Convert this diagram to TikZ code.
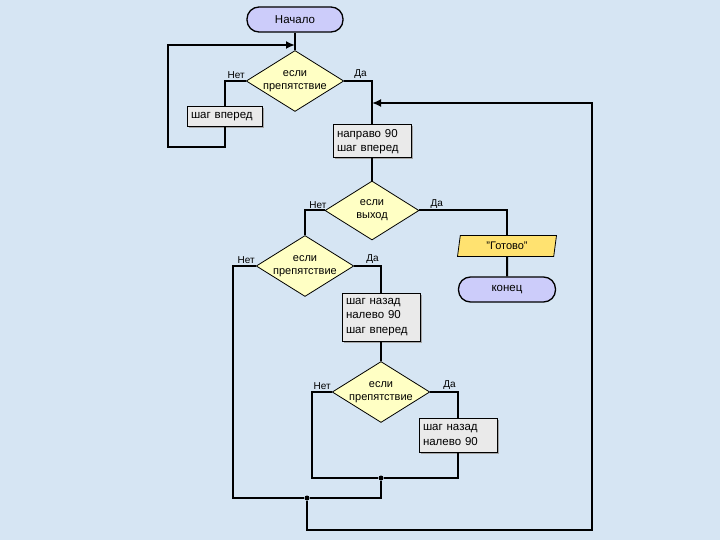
\documentclass[tikz,border=0pt]{standalone}
\usepackage{fontspec}
\setmainfont{Liberation Sans}
\usetikzlibrary{shapes.geometric,arrows.meta,shadows}
\definecolor{bgblue}{RGB}{214,229,243}
\definecolor{termblue}{RGB}{204,204,250}
\definecolor{condyellow}{RGB}{255,255,196}
\definecolor{ioyellow}{RGB}{255,226,112}
\definecolor{actgray}{RGB}{234,234,234}
\begin{document}
\begin{tikzpicture}[x=1pt,y=-1pt,
font=\fontsize{11}{13}\selectfont,
flow/.style={line width=2pt},
arr/.style={flow,-{Latex[length=9pt,width=8pt]}},
term/.style={draw,line width=1.3pt,fill=termblue,rounded corners=12pt,minimum width=96pt,minimum height=25pt,inner sep=0pt,font=\fontsize{11.5}{13}\selectfont},
cond/.style={diamond,draw,line width=0.8pt,fill=condyellow,aspect=1.6,minimum width=94pt,minimum height=59pt,inner sep=0pt,align=center},
act/.style={rectangle,draw,line width=1pt,fill=actgray,text width=70pt,align=left,inner sep=4pt,
	font=\fontsize{11.5}{14.5}\selectfont,drop shadow={shadow xshift=1.5pt,shadow yshift=-1.5pt,fill=gray!70,opacity=1}},
io/.style={trapezium,trapezium left angle=70,trapezium right angle=110,trapezium stretches body,draw,line width=0.8pt,fill=ioyellow,minimum width=99pt,minimum height=21pt,inner sep=0pt},
lbl/.style={font=\fontsize{10}{12}\selectfont,inner sep=1pt},
dot/.style={circle,fill,inner sep=0pt,minimum size=5pt}
]
\fill[bgblue] (0,0) rectangle (720,540);
\useasboundingbox (0,0) rectangle (720,540);

\node[term] (start) at (295,19.5) {Начало};
\node[cond] (d1) at (295,81) {если\\препятствие};
\node[act,text width=67pt,minimum height=20pt] (fwd) at (224.5,117) {шаг вперед};
\node[act,minimum height=33pt] (turn) at (372,141.5) {направо 90\\шаг вперед};
\node[cond] (d2) at (372,210.5) {если\\выход};
\node[io] (out) at (507,246) {"Готово"};
\node[term,minimum width=97pt] (stop) at (507,289.5) {конец};
\node[cond,minimum height=61pt] (d3) at (305,266) {если\\препятствие};
\node[act,minimum height=48pt] (back1) at (381,317) {шаг назад\\налево 90\\шаг вперед};
\node[cond,minimum width=92pt] (d4) at (381,392) {если\\препятствие};
\node[act,minimum height=34pt] (back2) at (458,435) {шаг назад\\налево 90};

\coordinate (j1) at (295,45);
\coordinate (j2) at (372,103);
\node[dot] (m1) at (381,478) {};
\node[dot] (m2) at (307,498) {};

\draw[flow] (start) -- (d1);
\draw[flow] (d1.west) -| (fwd.north);
\draw[arr] (fwd.south) |- ++(-57,20) |- (j1);
\draw[flow] (d1.east) -| (turn.north);
\draw[flow] (turn) -- (d2);
\draw[flow] (d2.east) -| (out.north);
\draw[flow] (out) -- (stop);
\draw[flow] (d2.west) -| (d3.north);
\draw[flow] (d3.east) -| (back1.north);
\draw[flow] (d3.west) -| ([xshift=-74pt]m2.center) -- (m2);
\draw[flow] (back1) -- (d4);
\draw[flow] (d4.east) -| (back2.north);
\draw[flow] (back2.south) |- (m1);
\draw[flow] (d4.west) -| ([xshift=-69pt]m1.center) -- (m1);
\draw[flow] (m1) |- (m2);
\draw[arr] (m2) |- (592,530) |- (j2);

\node[lbl,anchor=south east] (no1) at ([yshift=1pt]d1.west) {Нет};
\node[lbl,anchor=south west] (yes1) at ([xshift=9pt,yshift=1pt]d1.east) {Да};
\node[lbl,anchor=south east] (no2) at ([xshift=3pt,yshift=1pt]d2.west) {Нет};
\node[lbl,anchor=south west] (yes2) at ([xshift=10pt,yshift=1pt]d2.east) {Да};
\node[lbl,anchor=south east] (no3) at ([yshift=1pt]d3.west) {Нет};
\node[lbl,anchor=south west] (yes3) at ([xshift=11pt,yshift=1pt]d3.east) {Да};
\node[lbl,anchor=south east] (no4) at ([yshift=1pt]d4.west) {Нет};
\node[lbl,anchor=south west] (yes4) at ([xshift=12pt,yshift=1pt]d4.east) {Да};
\end{tikzpicture}
\end{document}
